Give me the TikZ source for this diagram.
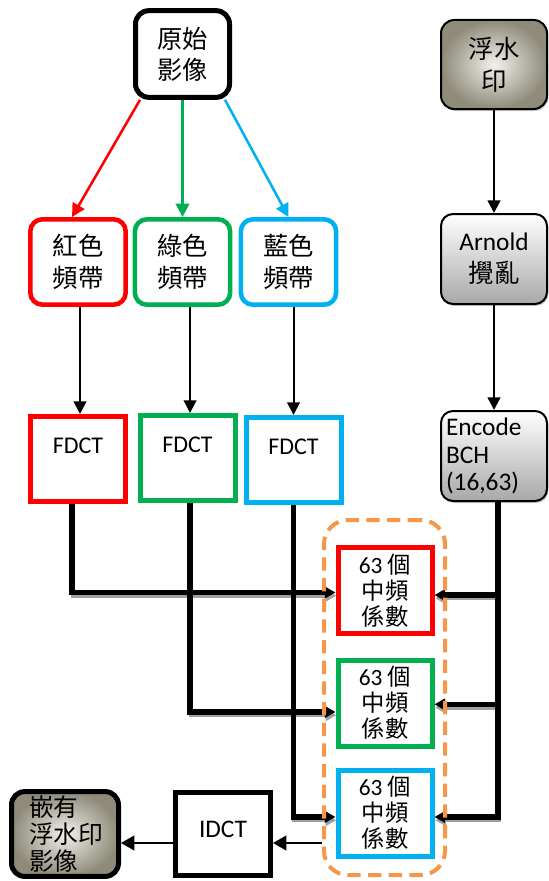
\documentclass[tikz,border=0pt]{standalone}
\usepackage{fontspec}
\setmainfont{Carlito}
\newfontfamily\cjk{Noto Sans CJK TC}
\usepackage{xcolor}
\usepackage{tikz}
\usetikzlibrary{arrows.meta,shadows}
\definecolor{WMRed}{HTML}{FF0000}
\definecolor{WMGreen}{HTML}{00B050}
\definecolor{WMBlue}{HTML}{00B0F0}
\definecolor{WMOrange}{HTML}{F79646}
\definecolor{WMOlive}{HTML}{8E8B7A}
\definecolor{WMOliveLight}{HTML}{F2F1EA}
\definecolor{WMGrey}{HTML}{A8A8A8}
\definecolor{WMShadow}{HTML}{A0A0A0}

\tikzset{
  srcbox/.style={draw, line width=3.75pt, rounded corners=10pt, minimum width=70.5pt, minimum height=65pt, align=center, font=\cjk\fontsize{19}{23.5}\selectfont},
  bandbox/.style={draw, line width=3.4pt, rounded corners=9pt, minimum width=71.5pt, minimum height=64pt, align=center, font=\cjk\fontsize{19}{23.5}\selectfont},
  dctbox/.style={draw, line width=3.75pt, minimum width=71.25pt, minimum height=63.75pt, font=\fontsize{18}{22}\selectfont, text height=12pt, text depth=21pt},
  coefbox/.style={draw, line width=3.75pt, fill=white, minimum width=70.5pt, minimum height=64.5pt, align=center, inner sep=1pt, font=\fontsize{17.5}{19.5}\selectfont},
  olivebox/.style={draw, rounded corners=10pt, inner color=WMOliveLight, outer color=WMOlive},
  greybox/.style={draw, line width=1.5pt, rounded corners=9pt, top color=white, bottom color=WMGrey, drop shadow={shadow xshift=1pt, shadow yshift=-1.5pt, fill=black!40}, minimum width=79.5pt, minimum height=67.5pt, font=\fontsize{19}{24}\selectfont},
  colarrow/.style={line width=1.9pt, -{Triangle[length=10pt,width=10pt]}},
  thinarrow/.style={line width=1.5pt, -{Triangle[length=9.5pt,width=9.5pt]}},
  outarrow/.style={line width=1.6pt, -{Triangle[length=10pt,width=11pt]}},
  bus/.style={line width=4pt, -{Triangle[length=8pt,width=8.5pt]}, preaction={draw=WMShadow, line width=3pt, transform canvas={shift={(0.6pt,-2.4pt)}}}},
  dashgroup/.style={draw=WMOrange, line width=3pt, rounded corners=18pt, dash pattern=on 10pt off 5.5pt, minimum width=90.75pt, minimum height=266.25pt},
}

\begin{document}
\begin{tikzpicture}[x=0.75pt,y=-0.75pt]
\path[use as bounding box] (0,0) rectangle (549,881);

\node[srcbox] (src) at (182.5,54) {原始\\影像};
\node[bandbox,draw=WMRed] (bandR) at (78,262) {紅色\\頻帶};
\node[bandbox,draw=WMGreen] (bandG) at (182.5,262) {綠色\\頻帶};
\node[bandbox,draw=WMBlue] (bandB) at (288.5,262) {藍色\\頻帶};
\node[dctbox,draw=WMRed] (fdR) at (78,459) {FDCT};
\node[dctbox,draw=WMGreen] (fdG) at (187.5,458) {FDCT};
\node[dctbox,draw=WMBlue] (fdB) at (293.5,460) {FDCT};

\node[olivebox,line width=1.5pt,drop shadow={shadow xshift=1pt, shadow yshift=-1.5pt, fill=black!40},minimum width=79.5pt,minimum height=66.75pt,align=center,font=\cjk\fontsize{19}{24}\selectfont] (wm) at (494,64.5) {浮水\\印};
\node[greybox,align=center] (arn) at (494,259) {Arnold\\{\cjk 攪亂}};
\node[greybox,align=left,text width=72pt,inner xsep=2pt,font=\fontsize{19}{20.5}\selectfont] (enc) at (494,456) {Encode\\BCH\\(16,63)};

\node[coefbox,draw=WMRed] (coefR) at (385,590.5) {63 {\cjk 個}\\{\cjk 中頻}\\{\cjk 係數}};
\node[coefbox,draw=WMGreen] (coefG) at (385,703) {63 {\cjk 個}\\{\cjk 中頻}\\{\cjk 係數}};
\node[coefbox,draw=WMBlue] (coefB) at (385,813) {63 {\cjk 個}\\{\cjk 中頻}\\{\cjk 係數}};

\node[draw,line width=3.75pt,minimum width=71.25pt,minimum height=62.25pt,font=\fontsize{19}{22}\selectfont,text height=12pt,text depth=7pt] (idct) at (223,834) {IDCT};
\node[olivebox,line width=3.75pt,minimum width=80.25pt,minimum height=62.25pt,align=left,text width=54pt,inner xsep=2pt,font=\cjk\fontsize{18.5}{20}\selectfont] (out) at (65,834) {嵌有\\浮水印\\影像};

\draw[colarrow,WMRed] ([xshift=5.25pt]src.south west) -- ([xshift=-4.5pt]bandR.north);
\draw[colarrow,WMGreen] (src.south) -- (bandG.north);
\draw[colarrow,WMBlue] ([xshift=-5.25pt]src.south east) -- (bandB.north);

\draw[thinarrow] ([xshift=1.5pt]bandR.south) -- ([xshift=1.5pt]fdR.north);
\draw[thinarrow] ([xshift=1.9pt]bandG.south -| fdG.north) -- ([xshift=1.9pt]fdG.north);
\draw[thinarrow] (bandB.south -| fdB.north) -- (fdB.north);

\draw[thinarrow,line width=1.7pt] (wm) -- (arn);
\draw[thinarrow,line width=1.7pt] (arn) -- (enc);

\draw[bus] ([xshift=-4.5pt]fdR.south) |- ([yshift=-1.5pt]coefR.west);
\draw[bus] ([xshift=1.9pt]fdG.south) |- ([yshift=-6.75pt]coefG.west);
\draw[bus] (fdB.south) |- ([yshift=-3pt]coefB.west);
\draw[bus] ([xshift=3pt]enc.south) |- ([yshift=-3.4pt]coefR.east);
\draw[bus] ([xshift=3pt]enc.south) |- ([yshift=-1pt]coefG.east);
\draw[bus] ([xshift=3pt]enc.south) |- ([yshift=-3pt]coefB.east);

\node[dashgroup] (grp) at (384.5,697.5) {};

\coordinate (outrow) at ([yshift=-6.75pt]idct.east);
\draw[outarrow] (outrow -| grp.west) -- (outrow);
\draw[outarrow] (idct.west |- outrow) -- (out.east |- outrow);
\end{tikzpicture}
\end{document}
